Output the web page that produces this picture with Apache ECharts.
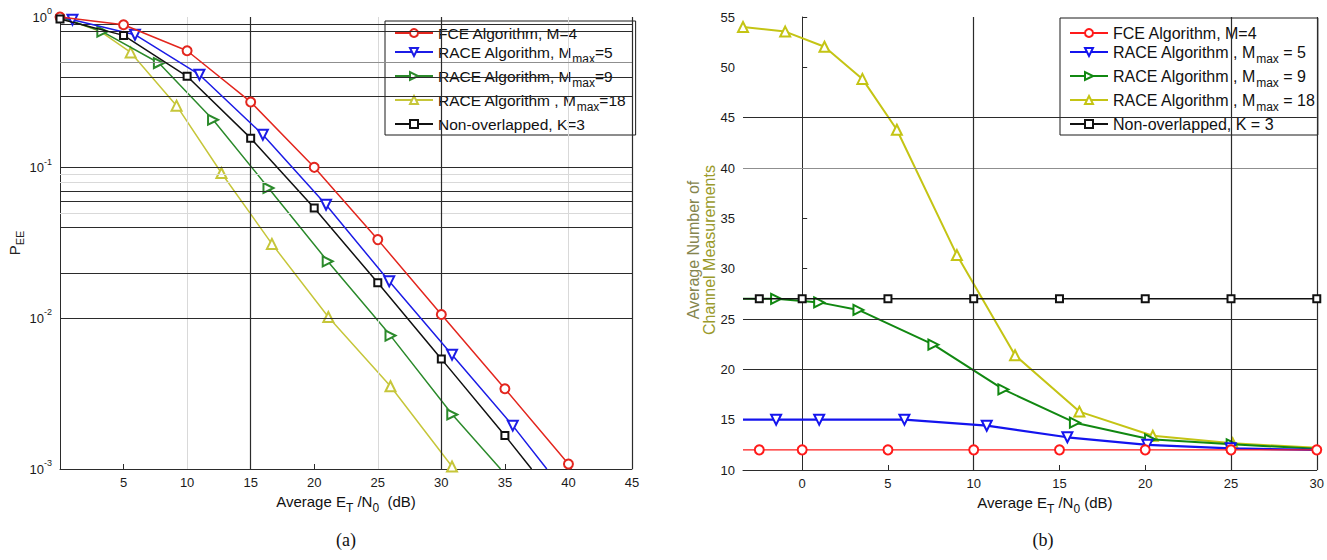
<!DOCTYPE html>
<html>
<head>
<meta charset="utf-8">
<script src="https://cdn.jsdelivr.net/npm/echarts@6/dist/echarts.min.js"></script>
<style>html,body{margin:0;padding:0;background:#fff;}#c{width:1327px;height:560px;}</style>
</head>
<body>
<div id="c"></div>
<script>
// ---------- (a) P_EE vs average ET/N0 ----------
const fceA_x   = [0, 5, 10, 15, 20, 25, 30, 35, 40, 40.25];
const fceA_y   = [1.0, 0.889, 0.597, 0.273, 0.1005, 0.0333, 0.0106, 0.00341, 0.00108, 0.001];
const fceA_hide = [9];
const r5A_x    = [0, 0.98, 5.9, 10.97, 15.96, 20.93, 25.9, 30.84, 35.62, 38.3];
const r5A_y    = [1.0, 0.96, 0.763, 0.414, 0.1655, 0.0568, 0.0176, 0.00574, 0.00194, 0.001];
const r5A_hide = [0, 9];
const r9A_x    = [0, 3.33, 7.78, 12.04, 16.4, 21.06, 26.0, 30.86, 34.66];
const r9A_y    = [1.0, 0.80, 0.495, 0.208, 0.0733, 0.0239, 0.00768, 0.0023, 0.001];
const r9A_hide = [0, 8];
const r18A_x   = [0, 3.2, 5.56, 9.17, 12.7, 16.67, 21.11, 26.0, 30.84, 31.1];
const r18A_y   = [1.0, 0.80, 0.582, 0.258, 0.0922, 0.0312, 0.0102, 0.00354, 0.00104, 0.001];
const r18A_hide = [0, 1, 9];
const nonA_x   = [0, 5, 10, 15, 20, 25, 30, 35, 37.1];
const nonA_y   = [0.97, 0.755, 0.404, 0.157, 0.054, 0.0172, 0.00538, 0.00167, 0.001];
const nonA_hide = [8];

// grid lines of panel (a)
const gridA_darkY  = [0.9, 0.8, 0.4, 0.3, 0.1, 0.07, 0.06, 0.04, 0.02, 0.009, 0.008, 0.005, 0.003];
const gridA_midY   = [0.5];
const gridA_lightY = [0.09, 0.08, 0.05, 0.007, 0.004, 0.002];
const gridA_darkX  = [15, 30, 45];
const gridA_lightX = [10, 25, 40];

// ---------- (b) Average number of channel measurements ----------
const fceB_x   = [-3.45, -2.5, 0, 5, 10, 15, 20, 25, 30];
const fceB_y   = [12, 12, 12, 12, 12, 12, 12, 12, 12];
const fceB_hide = [0];
const r5B_x    = [-3.45, -1.52, 0.99, 5.96, 10.76, 15.46, 20.12, 24.98, 30];
const r5B_y    = [15, 15, 15, 15, 14.4, 13.25, 12.5, 12.15, 12.0];
const r5B_hide = [0, 8];
const r9B_x    = [-3.45, -1.52, 0.99, 3.28, 7.65, 11.73, 15.9, 20.28, 25.04, 30];
const r9B_y    = [27, 27, 26.65, 25.9, 22.45, 18.0, 14.7, 13.05, 12.55, 12.1];
const r9B_hide = [0, 9];
const r18B_x   = [-3.45, -0.99, 1.30, 3.51, 5.52, 9.02, 12.41, 16.16, 20.44, 25.1, 30];
const r18B_y   = [54.0, 53.55, 52.05, 48.85, 43.8, 31.35, 21.4, 15.8, 13.4, 12.65, 12.2];
const r18B_hide = [10];
const nonB_x   = [-3.45, -2.5, 0, 5, 10, 15, 20, 25, 30];
const nonB_y   = [27, 27, 27, 27, 27, 27, 27, 27, 27];
const nonB_hide = [0];

const xTicksB = [0, 5, 10, 15, 20, 25, 30];
const gridB_darkY = [45, 25, 20];
const gridB_midY  = [40];
const gridB_darkX = [10, 25, 30];

// legend labels
const labelsA = {
  fceA: 'FCE Algorithm, M=4',
  r5A:  'RACE Algorithm, M{sub|max}=5',
  r9A:  'RACE Algorithm, M{sub|max}=9',
  r18A: 'RACE Algorithm , M{sub|max}=18',
  nonA: 'Non-overlapped, K=3'
};
const labelsB = {
  fceB: 'FCE Algorithm, M=4',
  r5B:  'RACE Algorithm , M{sub|max} = 5',
  r9B:  'RACE Algorithm , M{sub|max} = 9',
  r18B: 'RACE Algorithm , M{sub|max} = 18',
  nonB: 'Non-overlapped, K = 3'
};

function mk(xs, ys, hide) {
  return xs.map((x, i) => {
    const d = { value: [x, ys[i]] };
    if (hide.indexOf(i) >= 0) d.symbol = 'none';
    return d;
  });
}

const FONT = 'Liberation Sans, Arial, Helvetica, sans-serif';
const DARK = '#2b2b2b', MID = '#8f8f8f', LIGHT = '#d9d9d9';

function ml(vals, key, color, w) {
  return vals.map(v => ({ [key]: v, lineStyle: { color: color, width: w, type: 'solid' } }));
}

function gridSeries(idx, items) {
  return {
    type: 'line', name: '_grid' + idx, xAxisIndex: idx, yAxisIndex: idx, data: [], z: 1,
    silent: true,
    markLine: { silent: true, symbol: ['none', 'none'], label: { show: false }, animation: false,
      emphasis: { disabled: true }, data: items }
  };
}

function ser(name, idx, data, color, symbol, size, rot, width, z) {
  return {
    type: 'line', name: name, xAxisIndex: idx, yAxisIndex: idx, data: data,
    symbol: symbol, symbolSize: size, symbolRotate: rot, showAllSymbol: true,
    lineStyle: { color: color, width: width },
    itemStyle: { color: color, borderColor: color, borderWidth: 1.5 },
    z: z, clip: true
  };
}

function subStyle(size, shift, color) {
  return { fontSize: size, height: 0, padding: [shift * 2, 0, 0, 0], fontFamily: FONT, color: color };
}

const option = {
  animation: false,
  backgroundColor: '#fff',
  textStyle: { fontFamily: FONT },
  grid: [
    { left: 60, top: 17, width: 572, height: 452 },
    { left: 743, top: 17, width: 575, height: 453 }
  ],
  xAxis: [
    {
      type: 'value', gridIndex: 0, min: 0, max: 45, interval: 5,
      axisLine: { show: true, lineStyle: { color: DARK, width: 1 } },
      axisTick: { show: true, inside: true, length: 5, lineStyle: { color: DARK } },
      axisLabel: { showMinLabel: false, color: '#1a1a1a', fontSize: 13, margin: 7, fontFamily: FONT },
      splitLine: { show: false },
      name: 'Average E{sub|T} /N{sub|0}  (dB)', nameLocation: 'middle', nameGap: 19,
      nameTextStyle: { color: '#111', fontSize: 15, fontFamily: FONT, lineHeight: 16,
        rich: { sub: subStyle(12, 6, '#111') } }
    },
    {
      type: 'value', gridIndex: 1, min: -3.45, max: 30,
      axisLine: { show: true, lineStyle: { color: DARK, width: 1 } },
      axisTick: { show: true, inside: true, length: 5, customValues: xTicksB, lineStyle: { color: DARK } },
      axisLabel: { customValues: xTicksB, color: '#1a1a1a', fontSize: 13, margin: 7, fontFamily: FONT },
      splitLine: { show: false },
      name: 'Average E{sub|T} /N{sub|0} (dB)', nameLocation: 'middle', nameGap: 19,
      nameTextStyle: { color: '#111', fontSize: 15, fontFamily: FONT, lineHeight: 16, padding: [0, 0, 0, 30],
        rich: { sub: subStyle(12, 6, '#111') } }
    }
  ],
  yAxis: [
    {
      type: 'log', gridIndex: 0, min: 0.001, max: 1, logBase: 10,
      axisLine: { show: true, lineStyle: { color: DARK, width: 1 } },
      axisTick: { show: true, inside: true, length: 5, lineStyle: { color: DARK } },
      axisLabel: {
        color: '#1a1a1a', fontSize: 13, margin: 8, fontFamily: FONT,
        formatter: v => '10{sup|' + Math.round(Math.log10(v)) + '}',
        rich: { sup: { fontSize: 9, height: 0, padding: [0, 0, 12, 0], fontFamily: FONT, color: '#1a1a1a' } }
      },
      splitLine: { show: false },
      name: 'P{sub|EE}', nameLocation: 'middle', nameGap: 30, nameRotate: 90,
      nameTextStyle: { color: '#222', fontSize: 15, fontFamily: FONT, lineHeight: 16,
        rich: { sub: subStyle(11, 6, '#222') } }
    },
    {
      type: 'value', gridIndex: 1, min: 10, max: 55, interval: 5,
      axisLine: { show: true, lineStyle: { color: DARK, width: 1 } },
      axisTick: { show: true, inside: true, length: 5, lineStyle: { color: DARK } },
      axisLabel: { color: '#1a1a1a', fontSize: 13, margin: 8, fontFamily: FONT },
      splitLine: { show: false }
    }
  ],
  legend: [
    {
      left: 385, top: 21, orient: 'vertical', backgroundColor: '#fff',
      borderColor: '#1a1a1a', borderWidth: 1, borderRadius: 0,
      padding: [4, 10, 3, 9], itemGap: 3, itemWidth: 38, itemHeight: 10,
      data: Object.keys(labelsA), formatter: n => labelsA[n],
      textStyle: { fontSize: 15.5, color: '#111', fontFamily: FONT, lineHeight: 16,
        rich: { sub: subStyle(12, 7, '#111') } },
      selectedMode: false
    },
    {
      left: 1060, top: 18, orient: 'vertical', backgroundColor: '#fff',
      borderColor: '#1a1a1a', borderWidth: 1, borderRadius: 0,
      padding: [7, 3, 3, 9], itemGap: 3, itemWidth: 38, itemHeight: 10,
      data: Object.keys(labelsB), formatter: n => labelsB[n],
      textStyle: { fontSize: 16, color: '#111', fontFamily: FONT, lineHeight: 16,
        rich: { sub: subStyle(12, 7, '#111') } },
      selectedMode: false
    }
  ],
  graphic: [
    { type: 'text', x: 693, y: 250, rotation: Math.PI / 2,
      style: { text: 'Average Number of', fill: '#85854e', font: '16px Liberation Sans, Arial, sans-serif', align: 'center', verticalAlign: 'middle' } },
    { type: 'text', x: 709, y: 250, rotation: Math.PI / 2,
      style: { text: 'Channel Measurements', fill: '#9a9a2c', font: '16px Liberation Sans, Arial, sans-serif', align: 'center', verticalAlign: 'middle' } },
    { type: 'text', x: 346, y: 540,
      style: { text: '(a)', fill: '#111', font: '18px Liberation Serif, Times New Roman, serif', align: 'center', verticalAlign: 'middle' } },
    { type: 'text', x: 1043, y: 540,
      style: { text: '(b)', fill: '#111', font: '18px Liberation Serif, Times New Roman, serif', align: 'center', verticalAlign: 'middle' } }
  ],
  series: [
    gridSeries(0, [].concat(
      ml(gridA_lightY, 'yAxis', LIGHT, 1),
      ml(gridA_lightX, 'xAxis', LIGHT, 1),
      ml(gridA_midY, 'yAxis', MID, 1),
      ml(gridA_darkY, 'yAxis', DARK, 1.2),
      ml(gridA_darkX, 'xAxis', DARK, 1.2)
    )),
    gridSeries(1, [].concat(
      ml(gridB_midY, 'yAxis', MID, 1.2),
      ml(gridB_darkY, 'yAxis', DARK, 1.2),
      ml(gridB_darkX, 'xAxis', DARK, 1.2)
    )),
    ser('fceA', 0, mk(fceA_x, fceA_y, fceA_hide), '#e3261e', 'emptyCircle', 9, 0, 1.5, 6),
    ser('r5A', 0, mk(r5A_x, r5A_y, r5A_hide), '#1c1ce6', 'emptyTriangle', 10, 180, 1.5, 5),
    ser('r9A', 0, mk(r9A_x, r9A_y, r9A_hide), '#2b8a2b', 'emptyTriangle', 10, -90, 1.5, 4),
    ser('r18A', 0, mk(r18A_x, r18A_y, r18A_hide), '#c6c63a', 'emptyTriangle', 10, 0, 1.5, 3),
    ser('nonA', 0, mk(nonA_x, nonA_y, nonA_hide), '#111111', 'emptyRect', 7, 0, 1.5, 7),

    ser('fceB', 1, mk(fceB_x, fceB_y, fceB_hide), '#ff1a1a', 'emptyCircle', 9, 0, 1.2, 7),
    ser('r5B', 1, mk(r5B_x, r5B_y, r5B_hide), '#1414ee', 'emptyTriangle', 10, 180, 2.2, 5),
    ser('r9B', 1, mk(r9B_x, r9B_y, r9B_hide), '#118811', 'emptyTriangle', 10, -90, 2, 4),
    ser('r18B', 1, mk(r18B_x, r18B_y, r18B_hide), '#c4c414', 'emptyTriangle', 10, 0, 2, 3),
    ser('nonB', 1, mk(nonB_x, nonB_y, nonB_hide), '#111111', 'emptyRect', 7, 0, 1.5, 6)
  ]
};

const chart = echarts.init(document.getElementById('c'), null, { renderer: 'svg', width: 1327, height: 560 });
chart.setOption(option);
</script>
</body>
</html>
